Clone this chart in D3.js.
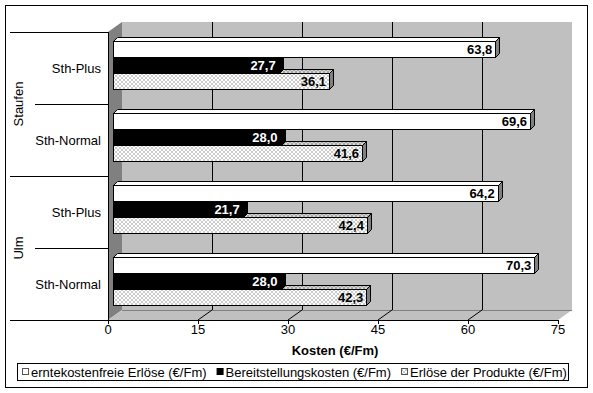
<!DOCTYPE html>
<meta charset="utf-8">
<script src="https://d3js.org/d3.v7.min.js"></script>
<style>
  body { margin: 0; background: #fff; }
  text { font-family: "Liberation Sans", Arial, sans-serif; }
</style>
<div id="chart"></div>
<script>
// categories, top to bottom
var gruppen = ["Staufen", "Ulm"]
var varianten = ["Sth-Plus", "Sth-Normal", "Sth-Plus", "Sth-Normal"]
var gruppeVon = ["Staufen", "Staufen", "Ulm", "Ulm"]

// series values (€/Fm)
var erloeseFrei = [63.8, 69.6, 64.2, 70.3]
var bereitstellung = [27.7, 28.0, 21.7, 28.0]
var erloeseProdukte = [36.1, 41.6, 42.4, 42.3]

var serien = ["erntekostenfreie Erlöse (€/Fm)", "Bereitstellungskosten (€/Fm)", "Erlöse der Produkte (€/Fm)"]
var xTicks = [0, 15, 30, 45, 60, 75]

var W = 593, H = 393
var svg = d3.select("#chart").append("svg").attr("width", W).attr("height", H)

// patterns for the hatched series
var defs = svg.append("defs")
function hatch(id, bg, fg) {
  var p = defs.append("pattern").attr("id", id).attr("patternUnits", "userSpaceOnUse")
      .attr("width", 4).attr("height", 4)
  p.append("rect").attr("width", 4).attr("height", 4).attr("fill", bg)
  p.append("path").attr("d", "M0,0L4,4M4,0L0,4").attr("stroke", fg).attr("stroke-width", 0.7)
}
hatch("hatchFront", "#fff", "#b4b4b4")
hatch("hatchTop", "#d8d8d8", "#8c8c8c")

// outer frame
svg.append("rect").attr("x", 5.5).attr("y", 5.5).attr("width", 582).attr("height", 382)
    .attr("fill", "#fff").attr("stroke", "#000")

// scales
var x = d3.scaleLinear().domain([0, 75]).range([108, 558])
var y = d3.scaleBand().domain(d3.range(varianten.length)).range([32, 320])
var serY = d3.scaleBand().domain([0, 1, 2]).range([9, 57])
var dx = 14, dy = -10       // depth of the 3d box
var bx = 4.5, bd = 4        // bar shift and bar depth

var top0 = y.range()[0], bot0 = y.range()[1]

// walls and floor
svg.append("polygon")
    .attr("points", [[x(0), top0], [x(0) + dx, top0 + dy], [x(0) + dx, bot0 + dy], [x(0), bot0]].join(" "))
    .attr("fill", "#808080")
svg.append("rect").attr("x", x(0) + dx).attr("y", top0 + dy)
    .attr("width", x(75) - x(0)).attr("height", bot0 - top0).attr("fill", "#c0c0c0")
svg.append("polygon")
    .attr("points", [[x(0), bot0], [x(0) + dx, bot0 + dy], [x(75) + dx, bot0 + dy], [x(75), bot0]].join(" "))
    .attr("fill", "#c0c0c0")
svg.append("line").attr("x1", x(0) + dx).attr("x2", x(75) + dx)
    .attr("y1", bot0 + dy + 0.5).attr("y2", bot0 + dy + 0.5).attr("stroke", "#808080")

// gridlines on the back wall and the floor
xTicks.slice(1, -1).forEach(function(v) {
  var xb = Math.round(x(v) + dx) + 0.5
  svg.append("line").attr("x1", xb).attr("x2", xb).attr("y1", top0 + dy).attr("y2", bot0 + dy)
      .attr("stroke", "#000")
})
xTicks.slice(1).forEach(function(v) {
  if (v < 75) {
    svg.append("line").attr("x1", x(v) + dx).attr("y1", bot0 + dy).attr("x2", x(v)).attr("y2", bot0)
        .attr("stroke", "#000")
  }
})

// front axis line and ticks
svg.append("line").attr("x1", x(0)).attr("x2", x(75)).attr("y1", bot0 + 0.5).attr("y2", bot0 + 0.5)
    .attr("stroke", "#000")
xTicks.forEach(function(v) {
  var xt = Math.round(x(v)) + 0.5
  svg.append("line").attr("x1", xt).attr("x2", xt).attr("y1", bot0).attr("y2", bot0 + 4).attr("stroke", "#000")
  svg.append("text").attr("x", x(v)).attr("y", 334).attr("text-anchor", "middle")
      .style("font-size", "13px").text(v)
})
svg.append("text").attr("x", 335).attr("y", 355).attr("text-anchor", "middle")
    .style("font-size", "13px").style("font-weight", "bold").text("Kosten (€/Fm)")

// bars
var werte = [erloeseFrei, bereitstellung, erloeseProdukte]
var fuell = ["#fff", "#000", "url(#hatchFront)"]
var fuellTop = ["#fff", "#000", "url(#hatchTop)"]
var fuellSeite = ["#808080", "#000", "#808080"]

d3.range(varianten.length).reverse().forEach(function(c) {
  [2, 1, 0].forEach(function(s) {
    var v = werte[s][c]
    var x0 = Math.round(x(0) + bx) + 0.5, x1 = Math.round(x(v) + bx) + 0.5
    var y0 = Math.round(y(c) + serY(s)) + 0.5, h = serY.bandwidth()
    var g = svg.append("g").attr("stroke", "#000").attr("stroke-width", 1)
    g.append("polygon")
        .attr("points", [[x0, y0], [x0 + bd, y0 - bd], [x1 + bd, y0 - bd], [x1, y0]].join(" "))
        .attr("fill", fuellTop[s])
    g.append("polygon")
        .attr("points", [[x1, y0], [x1 + bd, y0 - bd], [x1 + bd, y0 + h - bd], [x1, y0 + h]].join(" "))
        .attr("fill", fuellSeite[s])
    g.append("rect").attr("x", x0).attr("y", y0).attr("width", x1 - x0).attr("height", h)
        .attr("fill", fuell[s])
  })
})

// data labels
d3.range(varianten.length).forEach(function(c) {
  [0, 1, 2].forEach(function(s) {
    var v = werte[s][c]
    svg.append("text")
        .attr("x", x(v) + bx - 3)
        .attr("y", y(c) + serY(s) + serY.bandwidth() / 2 + 5)
        .attr("text-anchor", "end")
        .style("font-size", "13px").style("font-weight", "bold")
        .attr("fill", s === 1 ? "#fff" : "#000")
        .text(d3.format(".1f")(v).replace(".", ","))
  })
})

// category axis
svg.append("line").attr("x1", x(0) + 0.5).attr("x2", x(0) + 0.5).attr("y1", top0).attr("y2", bot0)
    .attr("stroke", "#000")
d3.range(varianten.length + 1).forEach(function(i) {
  var yy = (i < varianten.length ? y(i) : bot0) + 0.5
  svg.append("line").attr("x1", i % 2 === 0 ? 10 : 35).attr("x2", x(0)).attr("y1", yy).attr("y2", yy)
      .attr("stroke", "#000")
})
varianten.forEach(function(name, i) {
  svg.append("text").attr("x", 101).attr("y", y(i) + y.bandwidth() / 2 + 5)
      .attr("text-anchor", "end").style("font-size", "13px").text(name)
})
gruppen.forEach(function(gr) {
  var idx = gruppeVon.map(function(d, i) { return d === gr ? i : -1 }).filter(function(i) { return i >= 0 })
  var mid = (y(idx[0]) + y(idx[idx.length - 1]) + y.bandwidth()) / 2
  svg.append("text").attr("transform", "translate(23," + mid + ") rotate(-90)")
      .attr("text-anchor", "middle").style("font-size", "13px").text(gr)
})

// legend
var leg = svg.append("g")
leg.append("rect").attr("x", 17.5).attr("y", 363.5).attr("width", 551).attr("height", 17)
    .attr("fill", "#fff").attr("stroke", "#000")
var legFill = ["#fff", "#000", "url(#hatchFront)"]
var lx = 22
serien.forEach(function(name, i) {
  leg.append("rect").attr("x", lx + 0.5).attr("y", 368.5).attr("width", 6).attr("height", 6)
      .attr("fill", legFill[i]).attr("stroke", i === 1 ? "#000" : "#555")
  var t = leg.append("text").attr("x", lx + 9).attr("y", 377).style("font-size", "13px").text(name)
  lx = lx + 9 + t.node().getComputedTextLength() + 10
})
</script>
